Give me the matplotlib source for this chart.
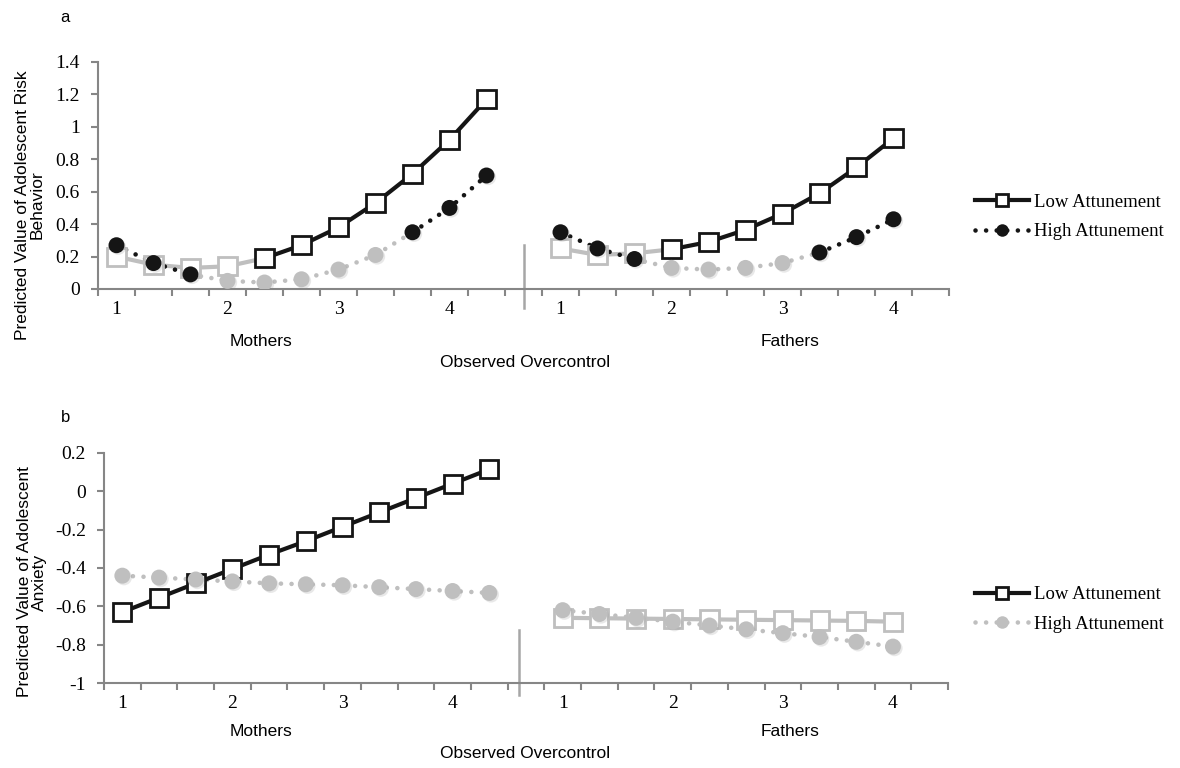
import matplotlib.pyplot as plt
import matplotlib.patheffects as pe
from matplotlib.lines import Line2D

# overcontrol levels (Excel-style category axis)
mothers_levels = ["1", "1.33", "1.67", "2", "2.33", "2.67", "3", "3.33", "3.67", "4", "4.33"]
fathers_levels = ["1", "1.33", "1.67", "2", "2.33", "2.67", "3", "3.33", "3.67", "4"]

# panel a: adolescent risk behavior (sig = 1 -> black, 0 -> gray)
a_mom_low = [0.20, 0.15, 0.13, 0.14, 0.19, 0.27, 0.38, 0.53, 0.71, 0.92, 1.17]
a_mom_low_sig = [0, 0, 0, 0, 1, 1, 1, 1, 1, 1, 1]
a_mom_high = [0.27, 0.16, 0.09, 0.05, 0.04, 0.06, 0.12, 0.21, 0.35, 0.50, 0.70]
a_mom_high_sig = [1, 1, 1, 0, 0, 0, 0, 0, 1, 1, 1]
a_dad_low = [0.25, 0.21, 0.22, 0.245, 0.29, 0.365, 0.465, 0.59, 0.75, 0.93]
a_dad_low_sig = [0, 0, 0, 1, 1, 1, 1, 1, 1, 1]
a_dad_high = [0.35, 0.25, 0.185, 0.13, 0.12, 0.13, 0.16, 0.225, 0.32, 0.43]
a_dad_high_sig = [1, 1, 1, 0, 0, 0, 0, 1, 1, 1]

# panel b: adolescent anxiety
b_mom_low = [-0.63, -0.555, -0.48, -0.405, -0.33, -0.26, -0.185, -0.11, -0.035, 0.04, 0.115]
b_mom_low_sig = [1] * 11
b_mom_high = [-0.44, -0.45, -0.46, -0.47, -0.48, -0.485, -0.49, -0.50, -0.51, -0.52, -0.53]
b_mom_high_sig = [0] * 11
b_dad_low = [-0.66, -0.662, -0.664, -0.666, -0.668, -0.67, -0.672, -0.674, -0.676, -0.68]
b_dad_low_sig = [0] * 10
b_dad_high = [-0.62, -0.64, -0.66, -0.68, -0.70, -0.72, -0.74, -0.76, -0.785, -0.81]
b_dad_high_sig = [0] * 10

BLACK = "#151515"
GRAY = "#bfbfbf"
AXC = "#868686"
SERIF = "Liberation Serif"
SANS = "Liberation Sans"
DOTS = (0, (0.01, 2.3))

n_m = len(mothers_levels)
n_f = len(fathers_levels)
x_m = list(range(n_m))
x_f = [n_m + 1 + i for i in range(n_f)]
n_cat = n_m + 1 + n_f + 1

shadow = [pe.SimplePatchShadow(offset=(1.2, -1.2), shadow_rgbFace="#909090", alpha=0.2), pe.Normal()]


def draw_series(ax, xs, ys, sig, kind):
    if kind == "low":
        ls = dict(linestyle="-", lw=3)
        mk = dict(marker="s", ms=13, mew=2.0, mfc="white")
    else:
        ls = dict(linestyle=DOTS, lw=3.3, dash_capstyle="round")
        mk = dict(marker="o", ms=11.5, mew=0)
    # split into runs of segments; a segment is black only if both ends are significant
    n = len(xs)
    seg = [bool(sig[i] and sig[i + 1]) for i in range(n - 1)]
    start = 0
    for i in range(1, n):
        if i == n - 1 or seg[i] != seg[start]:
            end = i
            col = BLACK if seg[start] else GRAY
            ax.plot(xs[start:end + 1], ys[start:end + 1], color=col, zorder=2 if seg[start] else 1, **ls)
            start = i
    for flag, col, z in [(0, GRAY, 3), (1, BLACK, 4)]:
        px = [x for x, s in zip(xs, sig) if s == flag]
        py = [y for y, s in zip(ys, sig) if s == flag]
        if not px:
            continue
        if kind == "low":
            ax.plot(px, py, ls="none", mec=col, zorder=z, path_effects=shadow, **mk)
        else:
            ax.plot(px, py, ls="none", mfc=col, zorder=z + 1, path_effects=shadow, **mk)


def style_axis(ax, ylim, yticks):
    ax.set_xlim(-0.5, n_cat - 0.5)
    ax.set_ylim(*ylim)
    ax.set_yticks(yticks)
    ax.set_yticklabels([f"{t:g}" for t in yticks], fontfamily=SERIF, fontsize=14)
    lab_pos = [x_m[i] for i, l in enumerate(mothers_levels) if "." not in l] + \
              [x_f[i] for i, l in enumerate(fathers_levels) if "." not in l]
    lab_txt = [l for l in mothers_levels if "." not in l] + [l for l in fathers_levels if "." not in l]
    ax.set_xticks(lab_pos)
    ax.set_xticklabels(lab_txt, fontfamily=SERIF, fontsize=14)
    ax.set_xticks([i - 0.5 for i in range(n_cat + 1)], minor=True)
    ax.tick_params(axis="x", which="major", length=0, pad=9)
    ax.tick_params(axis="x", which="minor", length=5, width=1.5, color=AXC, direction="out")
    ax.tick_params(axis="y", length=5, width=1.5, color=AXC, pad=8)
    for s in ["top", "right"]:
        ax.spines[s].set_visible(False)
    for s in ["left", "bottom"]:
        ax.spines[s].set_color(AXC)
        ax.spines[s].set_linewidth(1.5)


fig = plt.figure(figsize=(11.8, 7.68), dpi=100)

# ---------------- panel a
ax1 = fig.add_axes([98 / 1180, 1 - 289 / 768, 851 / 1180, 227 / 768])
draw_series(ax1, x_m, a_mom_low, a_mom_low_sig, "low")
draw_series(ax1, x_m, a_mom_high, a_mom_high_sig, "high")
draw_series(ax1, x_f, a_dad_low, a_dad_low_sig, "low")
draw_series(ax1, x_f, a_dad_high, a_dad_high_sig, "high")
style_axis(ax1, (0, 1.4), [0, 0.2, 0.4, 0.6, 0.8, 1, 1.2, 1.4])
ax1.plot([n_m, n_m], [-0.12, 0.27], color="#a6a6a6", lw=1.8, clip_on=False)

# ---------------- panel b
ax2 = fig.add_axes([104 / 1180, 1 - 683 / 768, 844 / 1180, 230 / 768])
draw_series(ax2, x_m, b_mom_low, b_mom_low_sig, "low")
draw_series(ax2, x_m, b_mom_high, b_mom_high_sig, "high")
draw_series(ax2, x_f, b_dad_low, b_dad_low_sig, "low")
draw_series(ax2, x_f, b_dad_high, b_dad_high_sig, "high")
style_axis(ax2, (-1, 0.2), [-1, -0.8, -0.6, -0.4, -0.2, 0, 0.2])
ax2.plot([n_m - 0.18, n_m - 0.18], [-1.063, -0.723], color="#a6a6a6", lw=1.8, clip_on=False)

# ---------------- texts
fig.text(65 / 1180, 1 - 17 / 768, "a", fontfamily=SANS, fontsize=12, ha="center", va="center")
fig.text(66 / 1180, 1 - 418 / 768, "b", fontfamily=SANS, fontsize=12, ha="center", va="center")
fig.text(30 / 1180, 1 - 205 / 768, "Predicted Value of Adolescent Risk\nBehavior", fontfamily=SANS,
         fontsize=12.5, rotation=90, ha="center", va="center", multialignment="center", linespacing=1.0)
fig.text(32 / 1180, 1 - 582 / 768, "Predicted Value of Adolescent\nAnxiety", fontfamily=SANS,
         fontsize=12.5, rotation=90, ha="center", va="center", multialignment="center", linespacing=1.0)
for yy, yo in [(341, 362), (732, 753)]:
    fig.text(261 / 1180, 1 - yy / 768, "Mothers", fontfamily=SANS, fontsize=12.5, ha="center", va="center")
    fig.text(790 / 1180, 1 - yy / 768, "Fathers", fontfamily=SANS, fontsize=12.5, ha="center", va="center")
    fig.text(525 / 1180, 1 - yo / 768, "Observed Overcontrol", fontfamily=SANS, fontsize=12.5,
             ha="center", va="center")


# ---------------- legends
def legend_handles(high_color):
    low = Line2D([], [], color=BLACK, lw=3, marker="s", ms=9, mfc="white", mec=BLACK, mew=2)
    high = Line2D([], [], color=high_color, lw=3.3, linestyle=DOTS, dash_capstyle="round",
                  marker="o", ms=9, mfc=high_color, mew=0)
    return [low, high]


for yc, hc in [(217, BLACK), (609.5, GRAY)]:
    fig.legend(legend_handles(hc), ["Low Attunement", "High Attunement"], loc="center left",
               bbox_to_anchor=(975 / 1180, 1 - yc / 768), frameon=False, borderpad=0,
               borderaxespad=0, handlelength=2.9, handletextpad=0.25, labelspacing=0.65,
               prop={"family": SERIF, "size": 13.5})

fig.savefig("out.png", dpi=100)
